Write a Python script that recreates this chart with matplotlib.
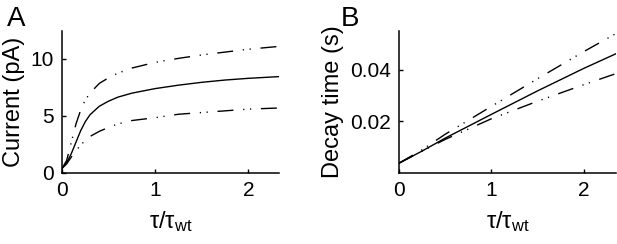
import numpy as np
import matplotlib
matplotlib.use("Agg")
import matplotlib.pyplot as plt

plt.rcParams['font.family'] = ['Liberation Sans', 'DejaVu Sans']
plt.rcParams['mathtext.fontset'] = 'custom'
plt.rcParams['mathtext.rm'] = 'Liberation Sans'
plt.rcParams['lines.scale_dashes'] = False

# Panel A: current vs tau/tau_wt
x_a = [0, 0.05, 0.1, 0.15, 0.2, 0.25, 0.3, 0.4, 0.5, 0.6, 0.75, 1.0, 1.25, 1.5, 1.75, 2.0, 2.33]
cur_mid = [0.4, 0.9, 1.7, 2.7, 3.7, 4.5, 5.1, 5.85, 6.3, 6.65, 7.0, 7.4, 7.7, 7.95, 8.15, 8.3, 8.45]
cur_hi = [0.4, 1.1, 2.7, 4.3, 5.5, 6.4, 7.0, 7.85, 8.35, 8.75, 9.2, 9.7, 10.05, 10.35, 10.6, 10.85, 11.1]
cur_lo = [0.4, 0.8, 1.4, 1.95, 2.45, 2.85, 3.2, 3.65, 4.0, 4.3, 4.6, 4.85, 5.15, 5.3, 5.45, 5.6, 5.7]

# Panel B: decay time vs tau/tau_wt
x_b = [0, 0.25, 0.5, 1.0, 1.5, 2.0, 2.35]
dec_mid = [0.0038, 0.0085, 0.0135, 0.0227, 0.0318, 0.0405, 0.0462]
dec_hi = [0.0038, 0.0090, 0.0150, 0.0258, 0.0365, 0.0470, 0.0540]
dec_lo = [0.0038, 0.0085, 0.0130, 0.0210, 0.0278, 0.0342, 0.0385]

W, H = 617, 244
fig = plt.figure(figsize=(W / 100, H / 100), dpi=100)

dashdotdot = (0, (11.5, 7.0, 0.9, 4.0, 0.9, 7.0))

def style(ax):
    for s in ['top', 'right']:
        ax.spines[s].set_visible(False)
    for s in ['left', 'bottom']:
        ax.spines[s].set_linewidth(1.1)
    ax.tick_params(direction='in', length=3, width=1, labelsize=15, pad=6)
    ax.set_xticks([0, 1, 2])
    ax.set_xlabel(r'$\mathregular{\tau/\tau_{wt}}$', fontsize=17, labelpad=6)

axA = fig.add_axes([62 / W, 71 / H, 217 / W, 142 / H])
axA.plot(x_a, cur_mid, color='black', lw=1.0)
axA.plot(x_a, cur_hi, color='black', lw=1.0, linestyle=dashdotdot)
axA.plot(x_a, cur_lo, color='black', lw=1.0, linestyle=dashdotdot)
axA.set_xlim(0, 2.33)
axA.set_ylim(0, 12.45)
axA.set_yticks([0, 5, 10])
axA.set_ylabel('Current (pA)', fontsize=17, labelpad=4)
style(axA)

axB = fig.add_axes([399 / W, 71 / H, 217 / W, 142 / H])
axB.plot(x_b, dec_mid, color='black', lw=1.0)
axB.plot(x_b, dec_hi, color='black', lw=1.0, linestyle=dashdotdot)
axB.plot(x_b, dec_lo, color='black', lw=1.0, linestyle=dashdotdot)
axB.set_xlim(0, 2.35)
axB.set_ylim(0, 0.055)
axB.set_yticks([0.02, 0.04])
axB.set_yticklabels(['0.02', '0.04'])
axB.set_ylabel('Decay time (s)', fontsize=17, labelpad=4)
style(axB)

fig.text(7 / W, 1 - 26 / H, 'A', fontsize=20)
fig.text(341 / W, 1 - 26 / H, 'B', fontsize=20)

fig.savefig('out.png', dpi=100)
